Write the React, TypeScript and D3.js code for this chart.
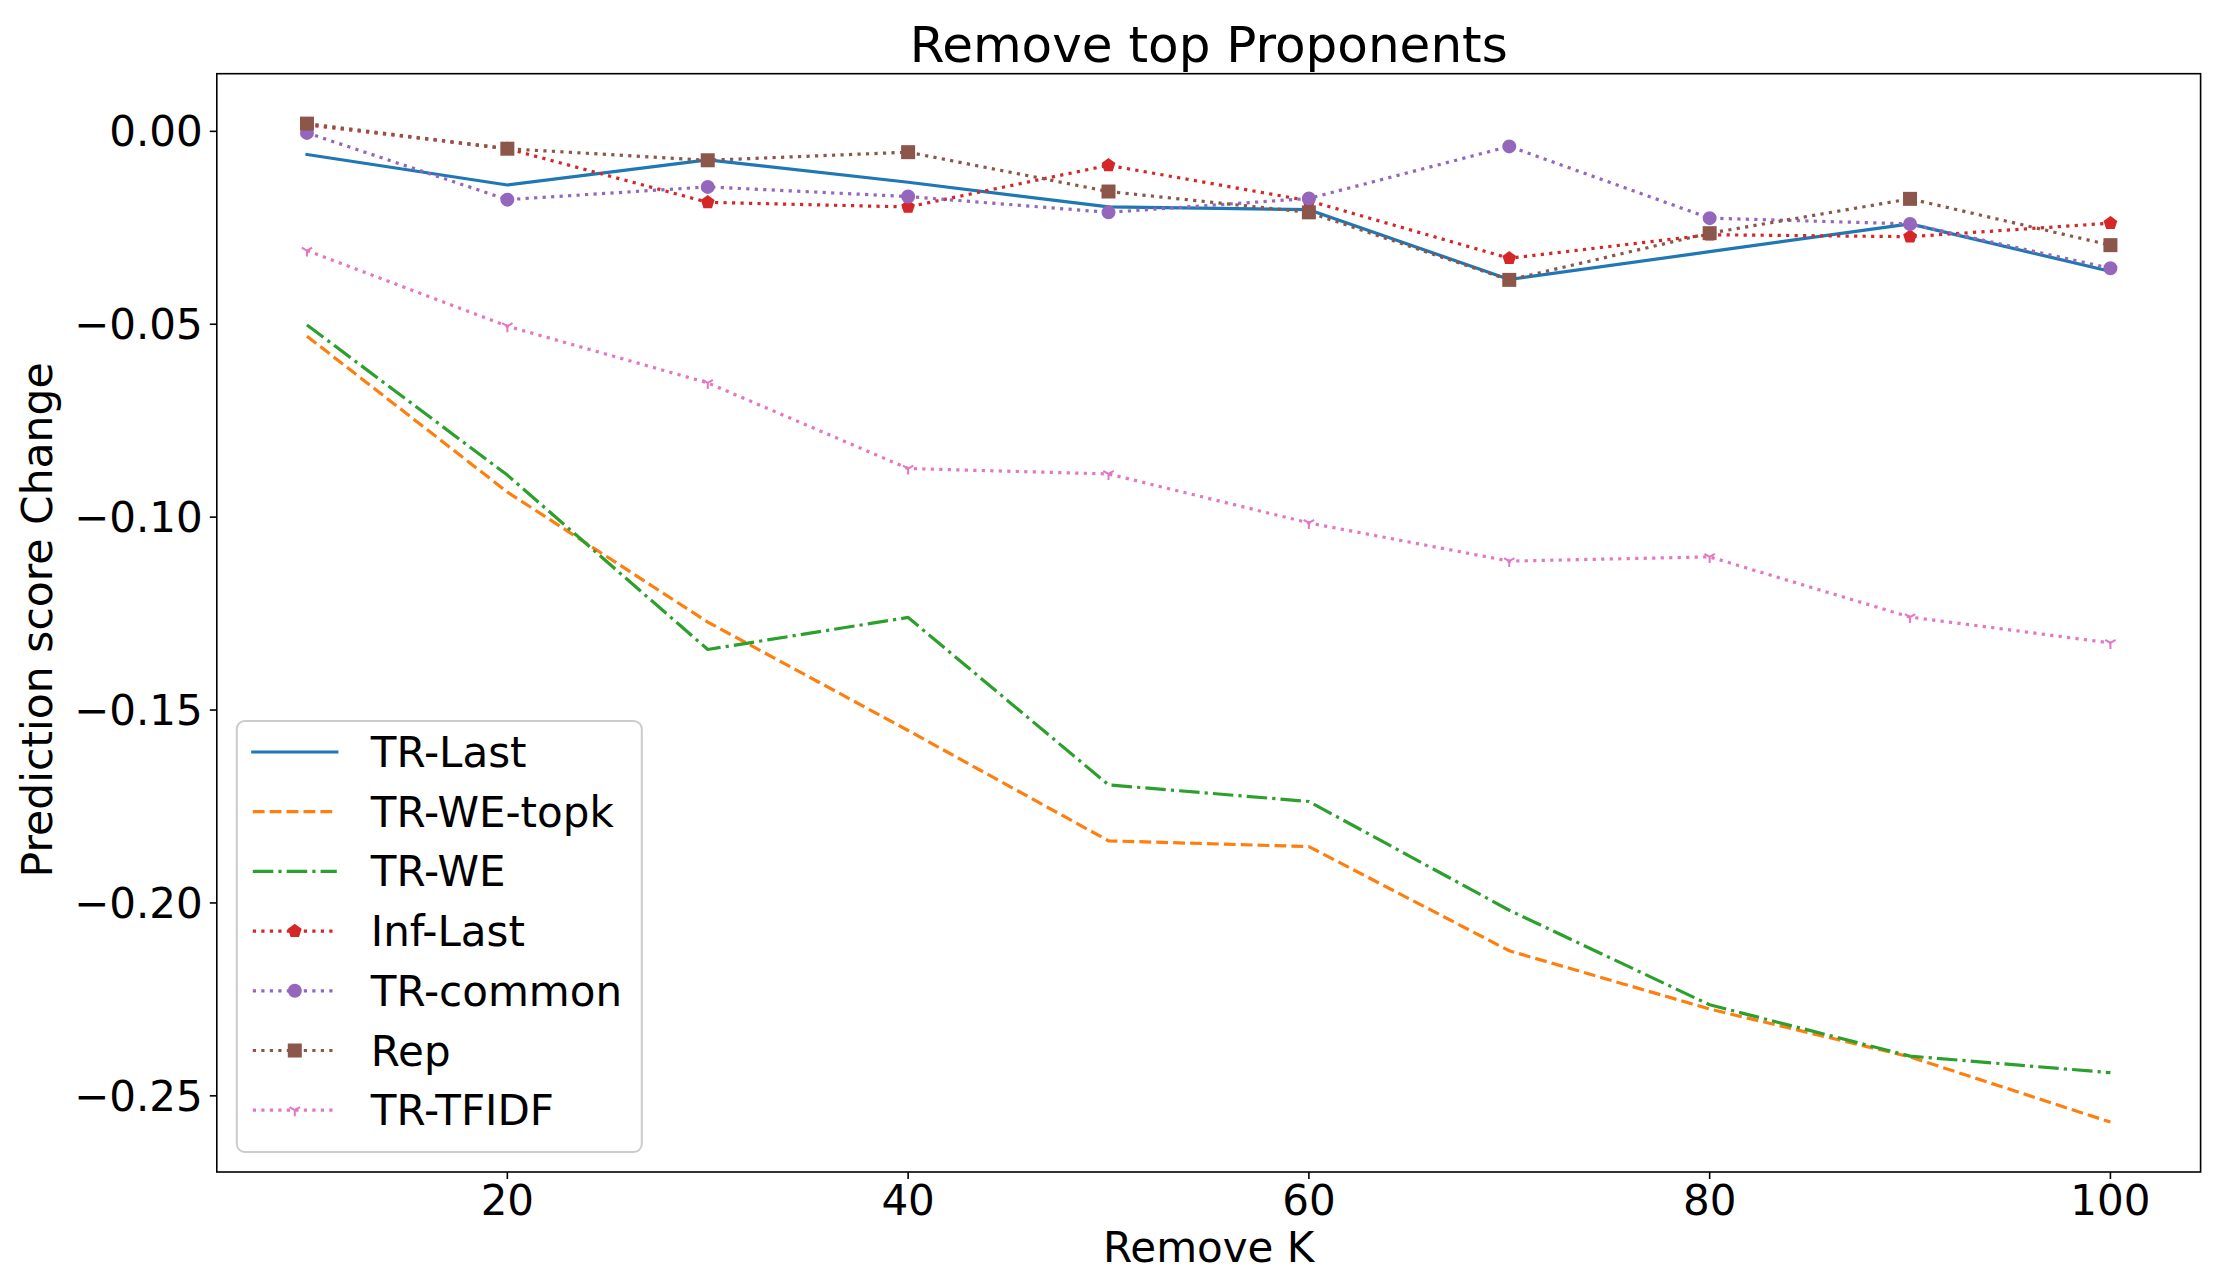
import React from 'react';
import * as d3 from 'd3';

const removeK = [10, 20, 30, 40, 50, 60, 70, 80, 90, 100];

const trLast = [-0.0060, -0.0139, -0.0074, -0.0132, -0.0196, -0.0203, -0.0384, -0.0312, -0.0240, -0.0363];
const trWeTopk = [-0.0531, -0.0935, -0.1272, -0.1553, -0.1839, -0.1854, -0.2124, -0.2275, -0.2399, -0.2568];
const trWe = [-0.0502, -0.0891, -0.1343, -0.1260, -0.1694, -0.1737, -0.2019, -0.2264, -0.2397, -0.2440];
const infLast = [0.0017, -0.0045, -0.0184, -0.0196, -0.0088, -0.0180, -0.0329, -0.0268, -0.0273, -0.0238];
const trCommon = [-0.0004, -0.0177, -0.0144, -0.0169, -0.0210, -0.0174, -0.0039, -0.0225, -0.0240, -0.0355];
const rep = [0.0020, -0.0045, -0.0075, -0.0054, -0.0156, -0.0210, -0.0385, -0.0264, -0.0175, -0.0295];
const trTfidf = [-0.0309, -0.0505, -0.0652, -0.0874, -0.0888, -0.1015, -0.1114, -0.1103, -0.1259, -0.1326];

const xTicks = [20, 40, 60, 80, 100];
const yTicks = [0, -0.05, -0.1, -0.15, -0.2, -0.25];

type Marker = 'none' | 'pentagon' | 'circle' | 'square' | 'tri_down';

type Series = {
  name: string;
  values: number[];
  color: string;
  dash: string;
  marker: Marker;
};

const series: Series[] = [
  { name: 'TR-Last', values: trLast, color: '#1f77b4', dash: 'none', marker: 'none' },
  { name: 'TR-WE-topk', values: trWeTopk, color: '#ff7f0e', dash: '11.8 5.1', marker: 'none' },
  { name: 'TR-WE', values: trWe, color: '#2ca02c', dash: '20.5 5.1 3.2 5.1', marker: 'none' },
  { name: 'Inf-Last', values: infLast, color: '#d62728', dash: '3.2 5.3', marker: 'pentagon' },
  { name: 'TR-common', values: trCommon, color: '#9467bd', dash: '3.2 5.3', marker: 'circle' },
  { name: 'Rep', values: rep, color: '#8c564b', dash: '3.2 5.3', marker: 'square' },
  { name: 'TR-TFIDF', values: trTfidf, color: '#e377c2', dash: '3.2 5.3', marker: 'tri_down' },
];

const W = 2222;
const H = 1284;
const margin = { top: 73.7, right: 21.4, bottom: 112, left: 216.8 };
const FONT = '"DejaVu Sans", sans-serif';
const LW = 3.2;

const drawMarker = (m: Marker, cx: number, cy: number, color: string, key: string) => {
  const size = 12;
  if (m === 'circle') {
    return <circle key={key} cx={cx} cy={cy} r={size / 2} fill={color} stroke={color} strokeWidth={2} />;
  }
  if (m === 'square') {
    return (
      <rect key={key} x={cx - size / 2} y={cy - size / 2} width={size} height={size}
        fill={color} stroke={color} strokeWidth={2} />
    );
  }
  if (m === 'pentagon') {
    const pts = d3.range(5).map(i => {
      const a = -Math.PI / 2 + (i * 2 * Math.PI) / 5;
      return `${cx + (size / 2) * Math.cos(a)},${cy + (size / 2) * Math.sin(a)}`;
    });
    return <polygon key={key} points={pts.join(' ')} fill={color} stroke={color} strokeWidth={2} />;
  }
  if (m === 'tri_down') {
    const r = size / 2;
    const d = `M${cx},${cy}L${cx},${cy + r}M${cx},${cy}L${cx - 0.866 * r},${cy - 0.5 * r}M${cx},${cy}L${cx + 0.866 * r},${cy - 0.5 * r}`;
    return <path key={key} d={d} stroke={color} strokeWidth={2} fill="none" />;
  }
  return null;
};

const App: React.FC = () => {
  const innerW = W - margin.left - margin.right;
  const innerH = H - margin.top - margin.bottom;

  const xExt = d3.extent(removeK) as [number, number];
  const xPad = (xExt[1] - xExt[0]) * 0.05;
  const x = d3.scaleLinear()
    .domain([xExt[0] - xPad, xExt[1] + xPad])
    .range([margin.left, margin.left + innerW]);

  const allVals = series.flatMap(s => s.values);
  const yExt = d3.extent(allVals) as [number, number];
  const yPad = (yExt[1] - yExt[0]) * 0.05;
  const y = d3.scaleLinear()
    .domain([yExt[0] - yPad, yExt[1] + yPad])
    .range([margin.top + innerH, margin.top]);

  const line = d3.line<number>()
    .x((_, i) => x(removeK[i]))
    .y(d => y(d));

  const fmt = d3.format('.2f');

  // legend layout (lower left)
  const legLeft = margin.left + 20;
  const legBottom = margin.top + innerH - 20;
  const rowGap = 59.7;
  const legH = 431;
  const legW = 405;
  const legTop = legBottom - legH;
  const firstRow = legTop + 31;

  return (
    <svg width={W} height={H} style={{ position: 'absolute', left: 0, top: 0, display: 'block', background: '#fff' }}
      fontFamily={FONT}>
      <defs>
        <clipPath id="plot-clip">
          <rect x={margin.left} y={margin.top} width={innerW} height={innerH} />
        </clipPath>
      </defs>

      <g clipPath="url(#plot-clip)">
        {series.map(s => (
          <g key={s.name}>
            <path d={line(s.values) ?? ''} fill="none" stroke={s.color} strokeWidth={LW}
              strokeDasharray={s.dash} strokeLinecap={s.dash === 'none' ? 'square' : 'butt'} strokeLinejoin="round" />
            {s.values.map((v, i) => drawMarker(s.marker, x(removeK[i]), y(v), s.color, `${s.name}-${i}`))}
          </g>
        ))}
      </g>

      {/* axes frame */}
      <rect x={margin.left} y={margin.top} width={innerW} height={innerH} fill="none" stroke="#000" strokeWidth={1.6} />

      {/* x ticks */}
      {xTicks.map(t => (
        <g key={`x${t}`}>
          <line x1={x(t)} x2={x(t)} y1={margin.top + innerH} y2={margin.top + innerH + 7} stroke="#000" strokeWidth={1.6} />
          <text x={x(t)} y={margin.top + innerH + 43} textAnchor="middle" fontSize={42} fill="#000">{t}</text>
        </g>
      ))}

      {/* y ticks */}
      {yTicks.map(t => (
        <g key={`y${t}`}>
          <line x1={margin.left - 7} x2={margin.left} y1={y(t)} y2={y(t)} stroke="#000" strokeWidth={1.6} />
          <text x={margin.left - 14} y={y(t) + 15} textAnchor="end" fontSize={42} fill="#000">{fmt(t)}</text>
        </g>
      ))}

      <text x={margin.left + innerW / 2} y={62} textAnchor="middle" fontSize={50} fill="#000">Remove top Proponents</text>
      <text x={margin.left + innerW / 2} y={1262} textAnchor="middle" fontSize={42} fill="#000">Remove K</text>
      <text transform={`translate(52,${margin.top + innerH / 2 - 3}) rotate(-90)`} textAnchor="middle" fontSize={42.5} fill="#000">
        Prediction score Change
      </text>

      {/* legend */}
      <g>
        <rect x={legLeft} y={legTop} width={legW} height={legH} rx={8} ry={8}
          fill="#fff" fillOpacity={0.8} stroke="#cccccc" strokeWidth={2} />
        {series.map((s, i) => {
          const cy = firstRow + i * rowGap;
          const hx0 = legLeft + 16;
          const hx1 = legLeft + 100;
          return (
            <g key={`leg-${s.name}`}>
              <line x1={hx0} x2={hx1} y1={cy} y2={cy} stroke={s.color} strokeWidth={LW}
                strokeDasharray={s.dash} strokeLinecap={s.dash === 'none' ? 'square' : 'butt'} />
              {drawMarker(s.marker, (hx0 + hx1) / 2, cy, s.color, `lm-${s.name}`)}
              <text x={legLeft + 134} y={cy + 15} fontSize={42} fill="#000">{s.name}</text>
            </g>
          );
        })}
      </g>
    </svg>
  );
};

export default App;
